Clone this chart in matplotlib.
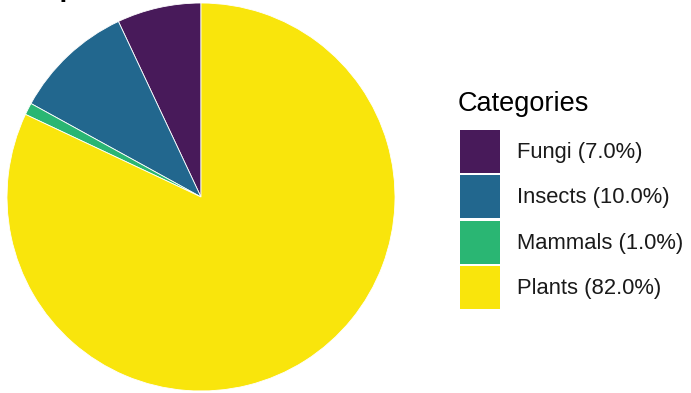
import matplotlib.pyplot as plt
from matplotlib.patches import Rectangle

plt.rcParams['font.family'] = ['Liberation Sans', 'DejaVu Sans']

# data
categories = ["Fungi", "Insects", "Mammals", "Plants"]
shares = [7.0, 10.0, 1.0, 82.0]
colors = ["#481a5a", "#22678e", "#2ab673", "#f9e50c"]

W, H = 691, 393
fig = plt.figure(figsize=(W / 100, H / 100), dpi=100)

# pie panel, centre (201, 197) px, radius 194 px
cx, cy, r = 201, 197, 194
ax = fig.add_axes([(cx - r) / W, (H - cy - r) / H, 2 * r / W, 2 * r / H])
ax.pie(shares, colors=colors, startangle=90, counterclock=True,
       wedgeprops=dict(edgecolor="white", linewidth=0.6), radius=1)
ax.set_xlim(-1, 1)
ax.set_ylim(-1, 1)
ax.set_aspect("equal")
ax.axis("off")

# title sits above the top edge, only the descender shows
fig.text(41 / W, 1 + 4 / H, "Species Distribution", fontsize=20,
         fontweight="bold", ha="left", va="baseline")

# legend
fig.text(458 / W, 1 - 104 / H, "Categories", fontsize=19.5,
         ha="left", va="center")
key_x, key_w, key_h, step, top = 460, 40, 43, 45.3, 130
for i, (name, val, col) in enumerate(zip(categories, shares, colors)):
    y0 = top + i * step
    fig.add_artist(Rectangle((key_x / W, 1 - (y0 + key_h) / H), key_w / W, key_h / H,
                             transform=fig.transFigure, facecolor=col,
                             edgecolor="none"))
    fig.text(517 / W, 1 - (y0 + key_h / 2 + 1) / H, f"{name} ({val:.1f}%)",
             fontsize=15.8, ha="left", va="center", color="#1a1a1a")

fig.savefig("out.png", dpi=100)
